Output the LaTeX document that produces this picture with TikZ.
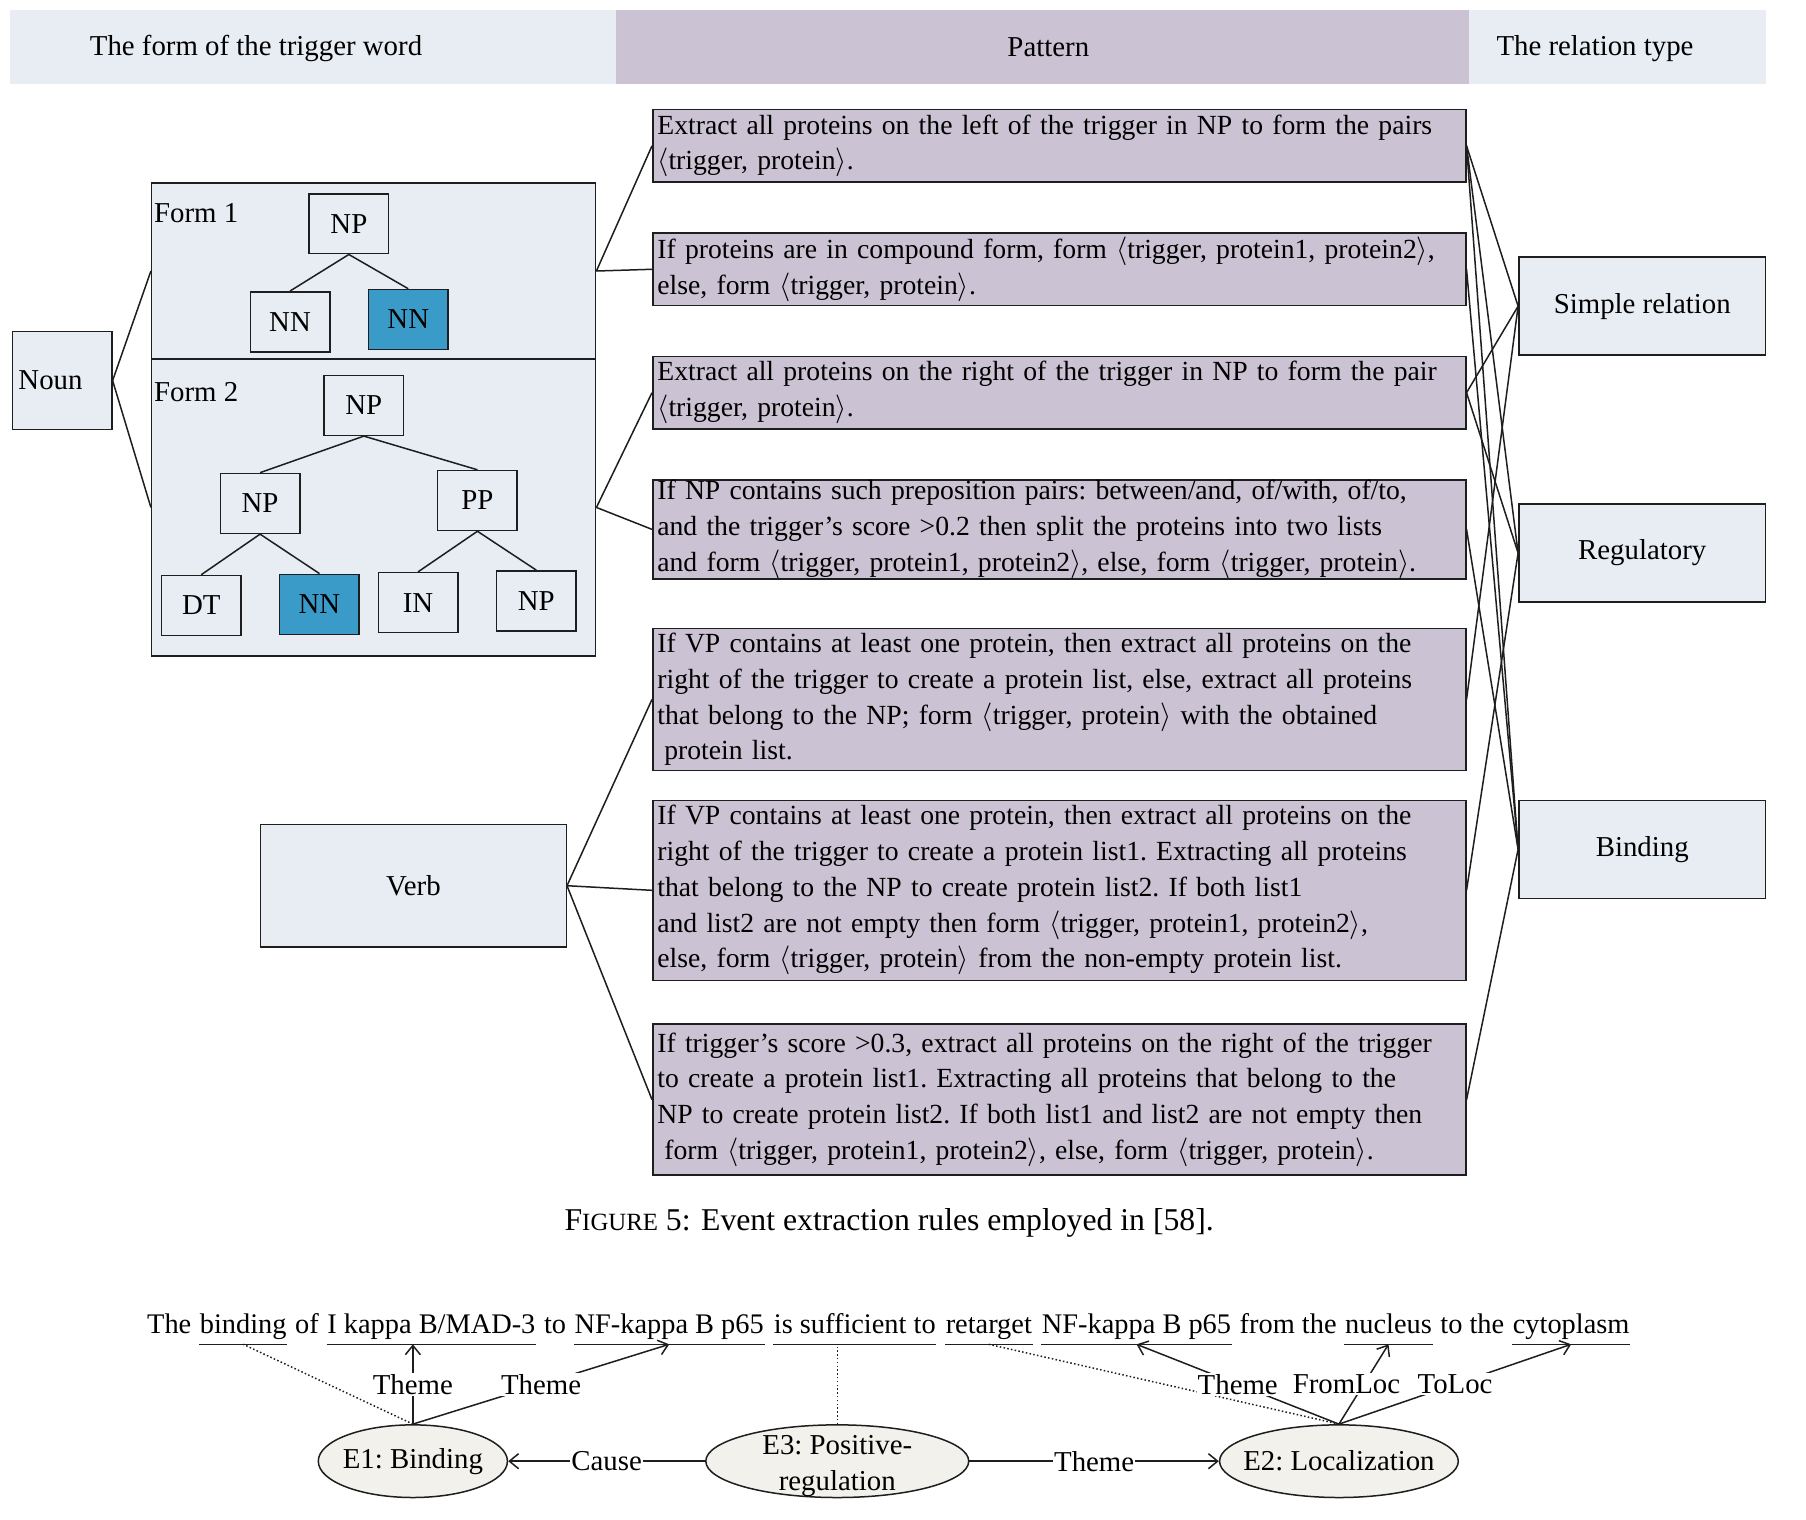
\documentclass[tikz,border=0pt]{standalone}
\usepackage{fontspec}
\setmainfont{Liberation Serif}
\usetikzlibrary{arrows.meta,shapes.geometric,positioning}

\definecolor{hdrgray}{HTML}{E8ECF3}
\definecolor{patpurple}{HTML}{CBC3D3}
\definecolor{nnblue}{HTML}{3A9BC9}
\definecolor{evfill}{HTML}{F2F1EC}
\definecolor{linegray}{HTML}{1E1E1E}

\newcommand\figfont{\fontsize{25}{31}\selectfont\frenchspacing}
\newcommand\rulefont{\fontsize{24}{31}\selectfont\frenchspacing}
\newcommand\sentfont{\fontsize{24.6}{31}\selectfont}
\newcommand\tuple[1]{$\langle$#1$\rangle$}
\newcommand\wsp{~\mbox{}}

\begin{document}
\begin{tikzpicture}[x=1pt,y=-1pt,line width=1.3pt,draw=linegray,
  every node/.style={font=\figfont},
  bar/.style={fill=#1,draw=none,inner sep=0pt,minimum height=64},
  box node/.style={rectangle,draw=linegray,fill=hdrgray,inner sep=0pt},
  tree node/.style={box node,minimum width=69,minimum height=52},
  rule node/.style={rectangle,draw=linegray,fill=patpurple,minimum width=705,text width=697,inner xsep=4pt,inner ysep=0pt,align=left,font=\rulefont},
  rel node/.style={box node,minimum width=214,minimum height=85},
  event node/.style={ellipse,draw=linegray,fill=evfill,inner sep=0pt,minimum height=63},
  evtext/.style={align=center,inner sep=0pt},
  word/.style={inner sep=0pt,anchor=base west,font=\sentfont},
  uword/.style={word,text depth=9pt},
  arg/.style={-{Straight Barb[length=8pt,width=13pt]}},
  lbl/.style={fill=white,inner sep=1pt}]

  \fill[white] (0,0) rectangle (1566,1318);
  \useasboundingbox (0,0) rectangle (1566,1318);

  % header
  \node[bar=hdrgray,minimum width=525] (hdrform) at (271.5,41) {};
  \node[bar=patpurple,minimum width=740] (hdrpat) at (904,41) {};
  \node[bar=hdrgray,minimum width=257] (hdrrel) at (1402.5,41) {};
  \node (hdrformtext) at (222,42) {The form of the trigger word};
  \node (hdrpattext) at (909,41) {Pattern};
  \node (hdrreltext) at (1383,42) {The relation type};

  % trigger word forms
  \node[box node,minimum width=86,minimum height=85,text width=76,inner xsep=5pt,align=left] (noun) at (54,330) {Noun};
  \node[box node,minimum width=385,minimum height=152.5] (form1) at (324,235) {};
  \node[box node,minimum width=385,minimum height=257.5] (form2) at (324,440) {};
  \node[inner sep=0pt,anchor=west] (form1text) at (133,185) {Form 1};
  \node[inner sep=0pt,anchor=west] (form2text) at (133,340) {Form 2};

  \node[tree node] (np1) at (302.5,194) {NP};
  \node[tree node] (nn1) at (251.5,279) {NN};
  \node[tree node,fill=nnblue] (nn2) at (354,277) {NN};

  \node[tree node] (np2) at (315.5,351.5) {NP};
  \node[tree node] (np3) at (225.5,436.5) {NP};
  \node[tree node] (pp) at (414,434) {PP};
  \node[tree node] (dt) at (174.5,525) {DT};
  \node[tree node,fill=nnblue] (nn3) at (277,524) {NN};
  \node[tree node] (in) at (362.5,522.5) {IN};
  \node[tree node] (np4) at (465,521) {NP};

  \node[box node,minimum width=265,minimum height=106] (verb) at (358.5,768) {Verb};

  % patterns
  \node[rule node,minimum height=63] (p1) at (918.5,126.5) {Extract all proteins on the left of the trigger in NP to form the pairs\\ \tuple{trigger, protein}.};
  \node[rule node,minimum height=63] (p2) at (918.5,233.5) {If proteins are in compound form, form \tuple{trigger, protein1, protein2},\\ else, form \tuple{trigger, protein}.};
  \node[rule node,minimum height=63] (p3) at (918.5,340.5) {Extract all proteins on the right of the trigger in NP to form the pair\\ \tuple{trigger, protein}.};
  \node[rule node,minimum height=86] (p4) at (918.5,459) {If NP contains such preposition pairs: between/and, of/with, of/to,\\ and the trigger’s score >0.2 then split the proteins into two lists\\ and form \tuple{trigger, protein1, protein2}, else, form \tuple{trigger, protein}.};
  \node[rule node,minimum height=123] (p5) at (918.5,606.5) {If VP contains at least one protein, then extract all proteins on the\\ right of the trigger to create a protein list, else, extract all proteins\\ that belong to the NP; form \tuple{trigger, protein} with the obtained\\ \hspace*{0.25em}protein list.};
  \node[rule node,minimum height=156] (p6) at (918.5,772) {If VP contains at least one protein, then extract all proteins on the\\ right of the trigger to create a protein list1. Extracting all proteins\\ that belong to the NP to create protein list2. If both list1\\ and list2 are not empty then form \tuple{trigger, protein1, protein2},\\ else, form \tuple{trigger, protein} from the non-empty protein list.};
  \node[rule node,minimum height=131] (p7) at (918.5,953.5) {If trigger’s score >0.3, extract all proteins on the right of the trigger\\ to create a protein list1. Extracting all proteins that belong to the\\ NP to create protein list2. If both list1 and list2 are not empty then\\ \hspace*{0.25em}form \tuple{trigger, protein1, protein2}, else, form \tuple{trigger, protein}.};

  % relation types
  \node[rel node] (simple) at (1424,265.5) {Simple relation};
  \node[rel node] (regul) at (1424,479.5) {Regulatory};
  \node[rel node] (bind) at (1424,736.5) {Binding};

  \path (noun.east) edge (form1.west) edge (form2.west)
    (form1.east) edge (p1.west) edge (p2.west)
    (form2.east) edge (p3.west) edge (p4.west)
    (verb.east) edge (p5.west) edge (p6.west) edge (p7.west)
    (np1.south) edge (nn1.north) edge (nn2.north)
    (np2.south) edge (np3.north) edge (pp.north)
    (np3.south) edge (dt.north) edge (nn3.north)
    (pp.south) edge (in.north) edge (np4.north);

  \path (p1.east) edge (simple.west) edge (regul.west) edge (bind.west)
    (p2.east) edge (bind.west)
    (p3.east) edge (simple.west) edge (regul.west)
    (p4.east) edge (bind.west)
    (p5.east) edge (simple.west)
    (p6.east) edge (regul.west)
    (p7.east) edge (bind.west);

  \node[font=\fontsize{27.5}{31}\selectfont] (caption) at (771,1060) {F{\fontsize{21.5}{24}\selectfont IGURE} 5: Event extraction rules employed in [58].};

  % example sentence
  \node[word] (s0) at (127,1156) {The\wsp};
  \node[uword] (u1) at (s0.base east) {binding};
  \node[word] (s1) at (u1.base east) {~of\wsp};
  \node[uword] (u2) at (s1.base east) {I kappa B/MAD-3};
  \node[word] (s2) at (u2.base east) {~to\wsp};
  \node[uword] (u3) at (s2.base east) {NF-kappa B p65};
  \node[word] (s3) at (u3.base east) {\wsp};
  \node[uword] (u4) at (s3.base east) {is sufficient to};
  \node[word] (s4) at (u4.base east) {\wsp};
  \node[uword] (u5) at (s4.base east) {retarget};
  \node[word] (s5) at (u5.base east) {\wsp};
  \node[uword] (u6) at (s5.base east) {NF-kappa B p65};
  \node[word] (s6) at (u6.base east) {~from the\wsp};
  \node[uword] (u7) at (s6.base east) {nucleus};
  \node[word] (s7) at (u7.base east) {~to the\wsp};
  \node[uword] (u8) at (s7.base east) {cytoplasm};
  \foreach \w in {u1,u2,u3,u4,u5,u6,u7,u8}
    \draw (\w.south west) -- (\w.south east);

  % events
  \node[event node,minimum width=164,label={[evtext]center:{E1: Binding}}] (e1) at (358,1267) {};
  \node[event node,minimum width=228,label={[evtext,yshift=-4pt]center:{E3: Positive-\\regulation}}] (e3) at (726,1267) {};
  \node[event node,minimum width=207,label={[evtext]center:{E2: Localization}}] (e2) at (1161,1267) {};

  \draw[dotted] (e1.north) -- (u1.south);
  \draw[dotted] (e3.north) -- (e3.north |- u4.south);
  \draw[dotted] (e2.north) -- (u5.south);

  \draw[arg] (e1.north) -- node[lbl] {Theme} (e1.north |- u2.south);
  \draw[arg] (e1.north) -- node[lbl] {Theme} (u3.south);
  \draw[arg] (e2.north) -- node[lbl] {Theme} (u6.south);
  \draw[arg] (e2.north) -- node[lbl,xshift=-15] {FromLoc} (u7.south);
  \draw[arg] (e2.north) -- node[lbl] {ToLoc} (u8.south);
  \draw[arg] (e3.west) -- node[lbl] {Cause} (e1.east);
  \draw[arg] (e3.east) -- node[lbl] {Theme} (e2.west);
\end{tikzpicture}
\end{document}
